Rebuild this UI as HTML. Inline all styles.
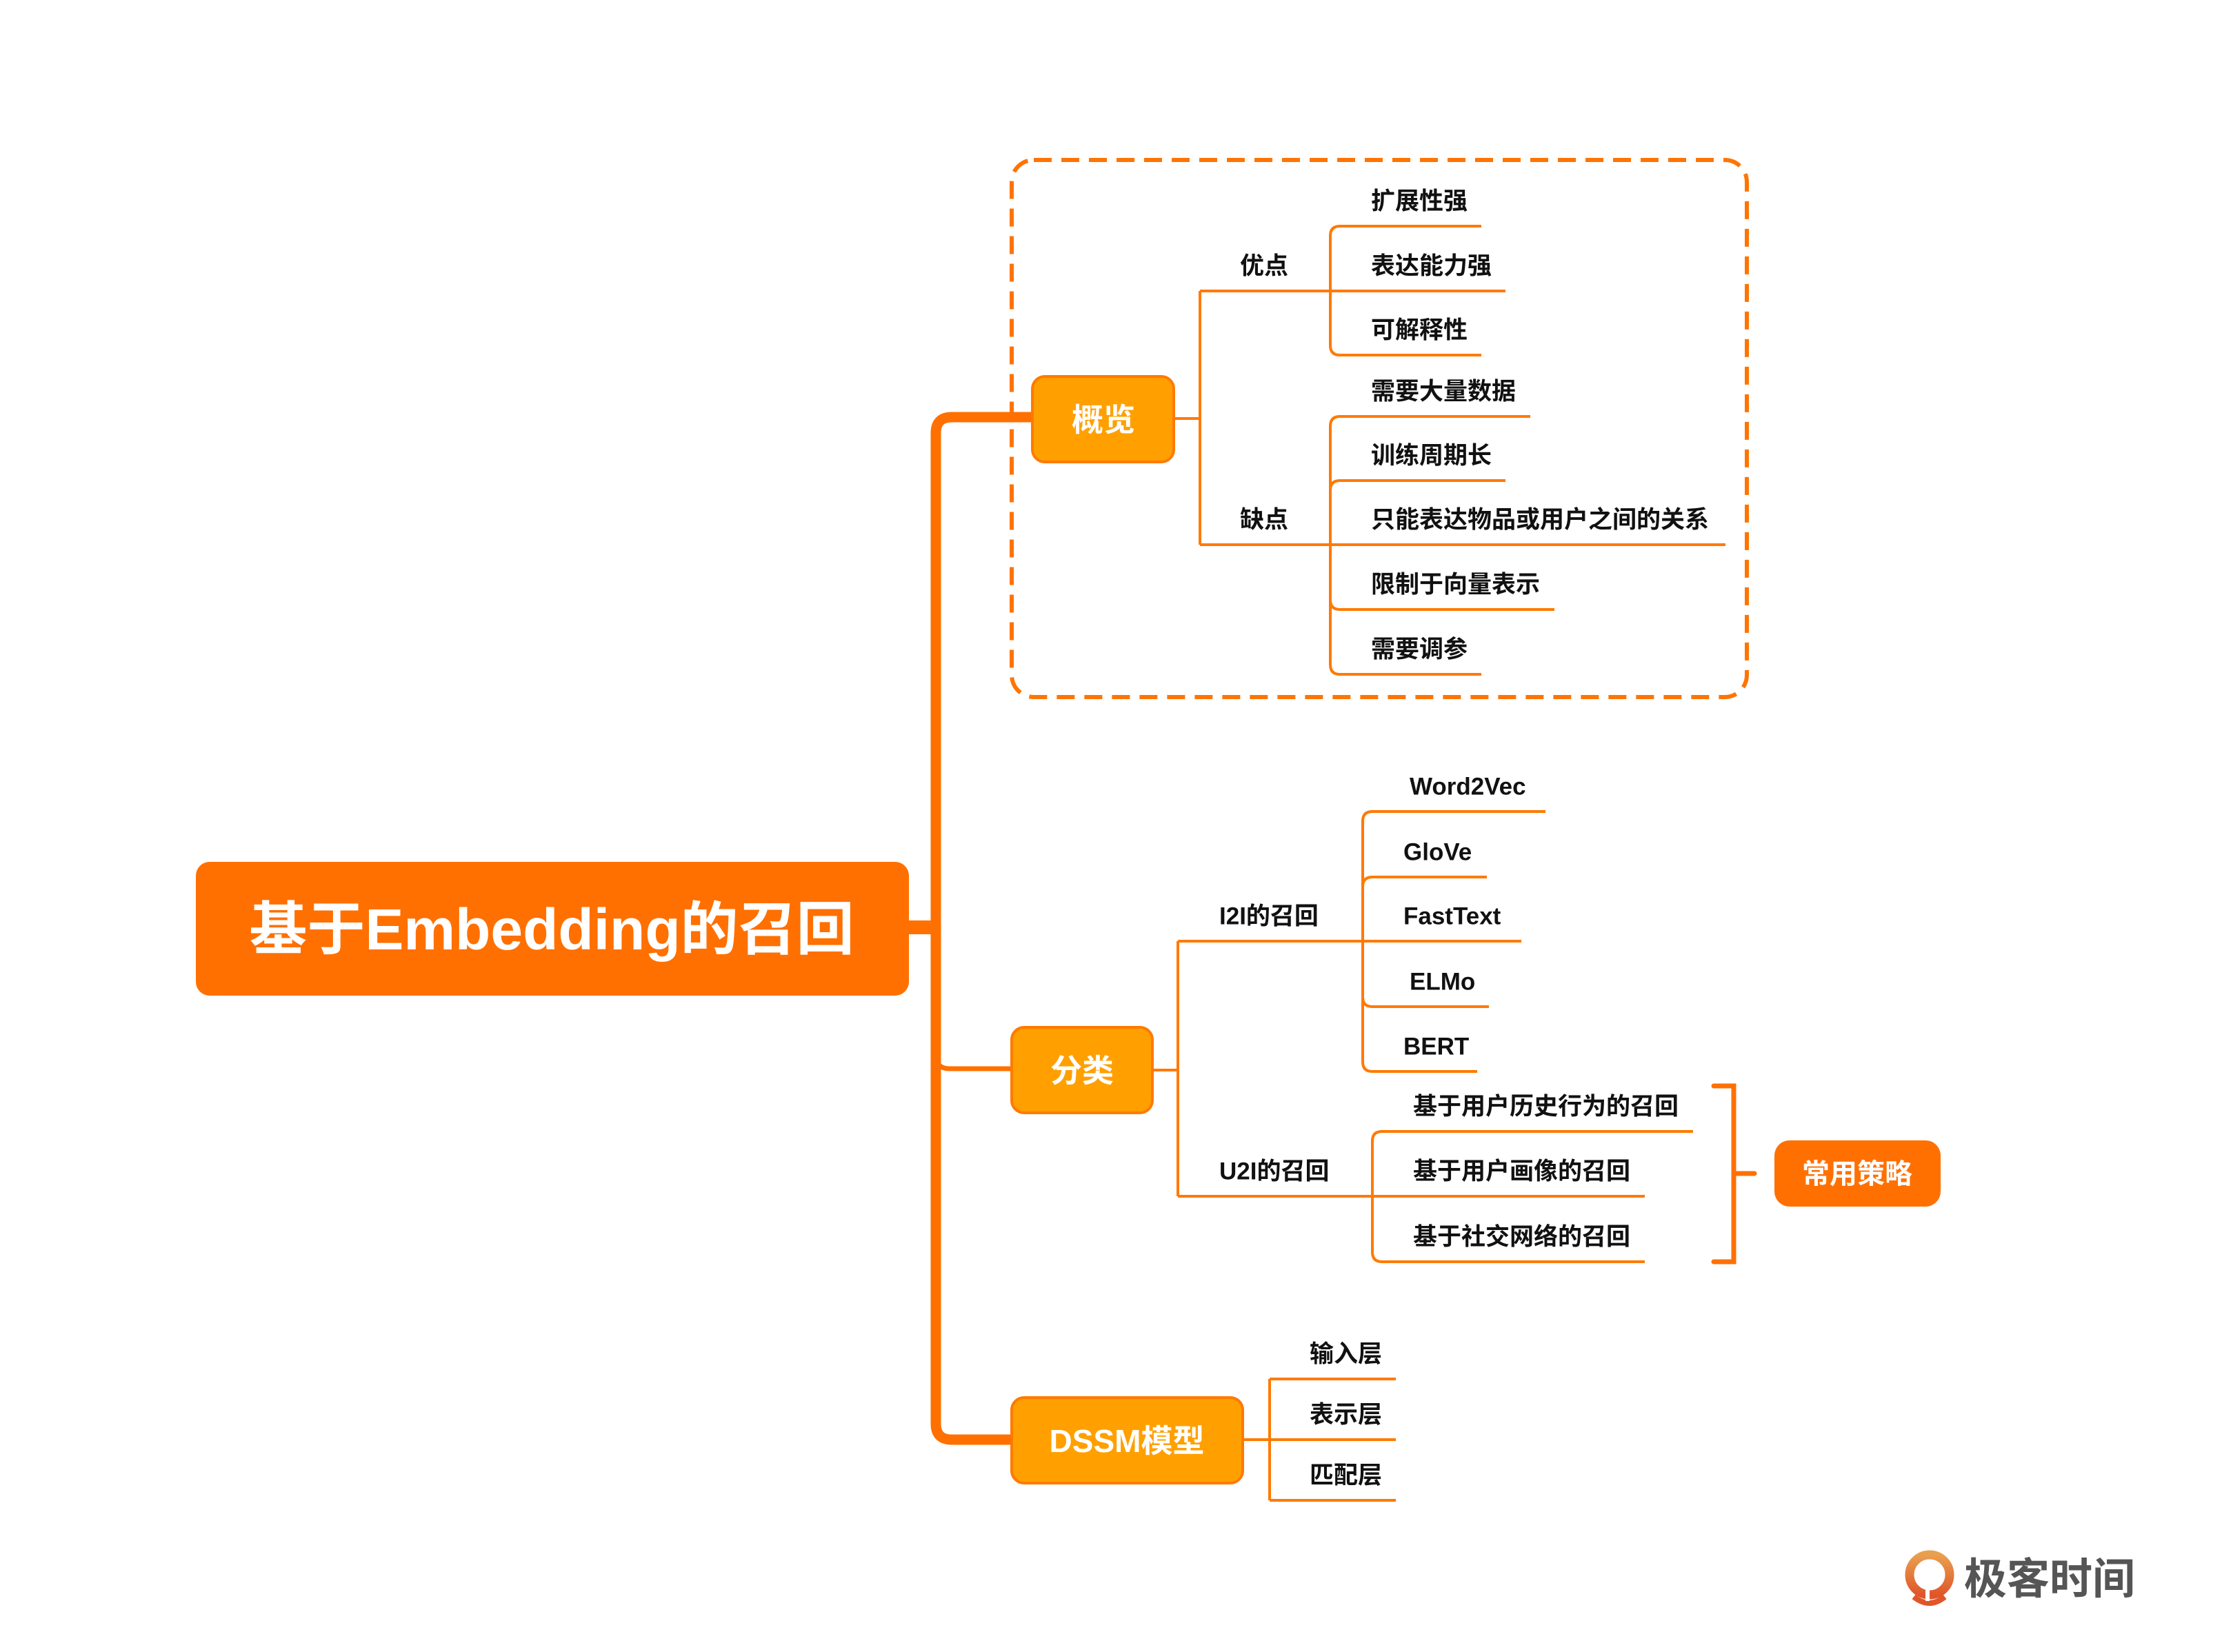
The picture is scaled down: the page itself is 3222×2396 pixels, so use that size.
<!DOCTYPE html>
<html><head><meta charset="utf-8"><style>
html,body{margin:0;padding:0;background:#fff;}
svg{display:block;}
text{font-family:"Liberation Sans","Noto Sans CJK SC",sans-serif;font-weight:bold;}
</style></head><body>
<svg width="3222" height="2396" viewBox="0 0 3222 2396" xmlns="http://www.w3.org/2000/svg">
<rect width="3222" height="2396" fill="#fff"/>
<rect x="1467" y="232" width="1066" height="779" rx="32" fill="none" stroke="#FF7400" stroke-width="6" stroke-dasharray="26 14"/>

<g fill="none" stroke="#FF7000" stroke-linecap="butt">
<path d="M1497 605 H1380 Q1357 605 1357 628 V2065 Q1357 2088 1380 2088 H1467" stroke-width="15"/>
<path d="M1357 1530 Q1357 1550 1377 1550 H1467" stroke-width="7"/>
<path d="M1316 1345 H1357" stroke-width="20"/>
</g>

<rect x="284" y="1250" width="1034" height="194" rx="20" fill="#FF7000"/>
<text x="800" y="1348" font-size="84" fill="#fff" text-anchor="middle" dominant-baseline="central">基于Embedding的召回</text>

<g fill="#FFA000" stroke="#FF7A00" stroke-width="4">
<rect x="1497" y="546" width="205" height="124" rx="18"/>
<rect x="1467" y="1490" width="204" height="124" rx="18"/>
<rect x="1467" y="2027" width="335" height="124" rx="18"/>
</g>
<g font-size="46" fill="#fff" text-anchor="middle" dominant-baseline="central">
<text x="1600" y="609">概览</text>
<text x="1569" y="1553">分类</text>
<text x="1634" y="2090">DSSM模型</text>
</g>

<g fill="none" stroke="#FF7A00" stroke-width="4">
<path d="M1702 607 H1740 M1740 422 V790"/>
<path d="M1740 422 H2183"/>
<path d="M1740 790 H2502"/>
<path d="M2148 328 H1943 Q1929 328 1929 342 V501 Q1929 515 1943 515 H2148"/>
<path d="M2219 604 H1943 Q1929 604 1929 618 V964 Q1929 978 1943 978 H2148"/>
<path d="M1929 711 Q1929 697 1943 697 H2183"/>
<path d="M1929 870 Q1929 884 1943 884 H2254"/>
<path d="M1671 1552 H1708 M1708 1365 V1735"/>
<path d="M1708 1365 H2206"/>
<path d="M1708 1735 H2385"/>
<path d="M2241 1177 H1990 Q1976 1177 1976 1191 V1540 Q1976 1554 1990 1554 H2142"/>
<path d="M1976 1286 Q1976 1272 1990 1272 H2156"/>
<path d="M1976 1446 Q1976 1460 1990 1460 H2159"/>
<path d="M2455 1641 H2004 Q1990 1641 1990 1655 V1816 Q1990 1830 2004 1830 H2385"/>
<path d="M1802 2088 H1841 M1841 2000 V2176 M1841 2000 H2024 M1841 2088 H2024 M1841 2176 H2024"/>
</g>

<g fill="none" stroke="#FF7000" stroke-width="7" stroke-linecap="round">
<path d="M2485 1575 H2514 V1830 H2485"/>
<path d="M2514 1702 H2544"/>
</g>
<rect x="2573" y="1654" width="241" height="96" rx="22" fill="#FF7000"/>
<text x="2693" y="1703" font-size="40" fill="#fff" text-anchor="middle" dominant-baseline="central">常用策略</text>

<g font-size="35" fill="#111" dominant-baseline="central">
<text x="1798" y="386">优点</text>
<text x="1798" y="754">缺点</text>
<text x="1988" y="292">扩展性强</text>
<text x="1988" y="386">表达能力强</text>
<text x="1988" y="479">可解释性</text>
<text x="1988" y="568">需要大量数据</text>
<text x="1988" y="661">训练周期长</text>
<text x="1988" y="754">只能表达物品或用户之间的关系</text>
<text x="1988" y="848">限制于向量表示</text>
<text x="1988" y="942">需要调参</text>

<text x="1768" y="1329">I2I的召回</text>
<text x="1768" y="1699">U2I的召回</text>
<text x="2044" y="1141">Word2Vec</text>
<text x="2035" y="1236">GloVe</text>
<text x="2035" y="1329">FastText</text>
<text x="2044" y="1424">ELMo</text>
<text x="2035" y="1518">BERT</text>
<text x="2049" y="1605">基于用户历史行为的召回</text>
<text x="2049" y="1699">基于用户画像的召回</text>
<text x="2049" y="1794">基于社交网络的召回</text>

<text x="1899" y="1964">输入层</text>
<text x="1899" y="2052">表示层</text>
<text x="1899" y="2140">匹配层</text>
</g>

<defs><linearGradient id="lg" x1="0" y1="0" x2="0" y2="1"><stop offset="0" stop-color="#E8A050"/><stop offset="1" stop-color="#E0562A"/></linearGradient></defs>
<circle cx="2798" cy="2284" r="29" fill="none" stroke="url(#lg)" stroke-width="13"/>
<path d="M2775 2316 Q2798 2334 2820 2316" fill="none" stroke="#E0562A" stroke-width="8"/>
<path d="M2795 2300 V2322" stroke="#fff" stroke-width="6"/>
<text x="2848" y="2291" font-size="62" fill="#555" dominant-baseline="central" font-weight="normal">极客时间</text>
</svg>
</body></html>
